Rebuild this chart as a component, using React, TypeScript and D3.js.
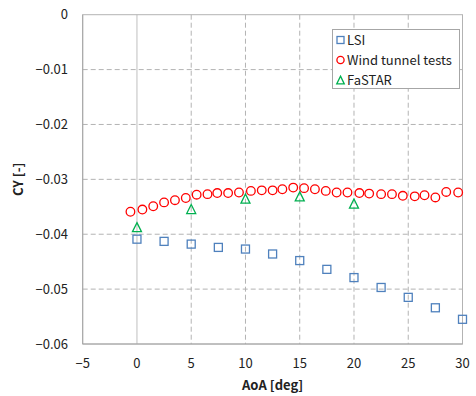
import React from "react";
import * as d3 from "d3";

const xTicks = [-5, 0, 5, 10, 15, 20, 25, 30];
const yTicks = [0, -0.01, -0.02, -0.03, -0.04, -0.05, -0.06];

const lsiX = [0, 2.5, 5, 7.5, 10, 12.5, 15, 17.5, 20, 22.5, 25, 27.5, 30];
const lsiY = [-0.0409, -0.0413, -0.0418, -0.0424, -0.0427, -0.0436, -0.0448, -0.0464, -0.0479, -0.0497, -0.0515, -0.0534, -0.0555];

const windX = [-0.6, 0.5, 1.5, 2.5, 3.5, 4.5, 5.5, 6.5, 7.4, 8.4, 9.4, 10.5, 11.5, 12.5, 13.4, 14.4, 15.4, 16.4, 17.4, 18.4, 19.4, 20.5, 21.4, 22.5, 23.5, 24.5, 25.6, 26.5, 27.5, 28.5, 29.6];
const windY = [-0.0359, -0.0355, -0.0349, -0.0342, -0.0338, -0.0334, -0.0328, -0.0327, -0.0325, -0.0325, -0.0324, -0.0321, -0.032, -0.032, -0.0318, -0.0315, -0.0316, -0.0318, -0.0321, -0.0324, -0.0324, -0.0325, -0.0326, -0.0327, -0.0327, -0.033, -0.0331, -0.0329, -0.0333, -0.0323, -0.0324];

const fastarX = [0, 5, 10, 15, 20];
const fastarY = [-0.0388, -0.0355, -0.0336, -0.0332, -0.0345];

const BLUE = "#4f81bd";
const RED = "#ff0000";
const GREEN = "#00b050";
const FONT = "'Noto Sans CJK JP', 'Noto Sans', sans-serif";

const fmt = (v: number) => (v === 0 ? "0" : String(v).replace("-", "\u2212"));

export default function App() {
  const left = 82.7, right = 462.5, top = 14.7, bottom = 344;
  const x = d3.scaleLinear().domain([-5, 30]).range([left, right]);
  const y = d3.scaleLinear().domain([-0.06, 0]).range([bottom, top]);

  const square = (cx: number, cy: number, key: string | number, s = 8) => (
    <rect key={key} x={cx - s / 2} y={cy - s / 2} width={s} height={s} fill="none" stroke={BLUE} strokeWidth={1.3} />
  );
  const circle = (cx: number, cy: number, key: string | number, r = 4.3) => (
    <circle key={key} cx={cx} cy={cy} r={r} fill="none" stroke={RED} strokeWidth={1.3} />
  );
  const tri = (cx: number, cy: number, key: string | number, s = 9) => {
    const h = s * 0.9;
    return (
      <path key={key} d={`M${cx},${cy - h / 2 - 1}L${cx + s / 2},${cy + h / 2}L${cx - s / 2},${cy + h / 2}Z`} fill="none" stroke={GREEN} strokeWidth={1.3} />
    );
  };

  return (
    <svg width={476} height={396} style={{ position: "absolute", left: 0, top: 0, background: "#fff" }} fontFamily={FONT}>
      <rect width={476} height={396} fill="#fff" />
      {/* gridlines */}
      {yTicks.filter((t) => t !== 0 && t !== -0.06).map((t) => (
        <line key={"gy" + t} x1={left} x2={right} y1={y(t)} y2={y(t)} stroke="#b3b3b3" strokeWidth={1} strokeDasharray="5,3" />
      ))}
      {xTicks.filter((t) => t !== -5 && t !== 0 && t !== 30).map((t) => (
        <line key={"gx" + t} x1={x(t)} x2={x(t)} y1={top} y2={bottom} stroke="#b3b3b3" strokeWidth={1} strokeDasharray="5,3" />
      ))}
      <line x1={x(0)} x2={x(0)} y1={top} y2={bottom} stroke="#bfbfbf" strokeWidth={1} />
      {/* border */}
      <rect x={left} y={top} width={right - left} height={bottom - top} fill="none" stroke="#b3b3b3" strokeWidth={1} />
      <line x1={left} x2={left} y1={top} y2={bottom} stroke="#a6a6a6" strokeWidth={1} />
      <line x1={left} x2={right} y1={bottom} y2={bottom} stroke="#a6a6a6" strokeWidth={1} />

      {/* tick labels */}
      {yTicks.map((t) => (
        <text key={"ty" + t} x={68} y={y(t)} dy="0.35em" textAnchor="end" fontSize={13} fill="#222">{fmt(t)}</text>
      ))}
      {xTicks.map((t) => (
        <text key={"tx" + t} x={x(t)} y={363} dy="0.35em" textAnchor="middle" fontSize={13} fill="#222">{fmt(t)}</text>
      ))}
      <text x={(left + right) / 2} y={385} dy="0.35em" textAnchor="middle" fontSize={13} fontWeight="bold" fill="#222">AoA [deg]</text>
      <text transform={`translate(18,${(top + bottom) / 2}) rotate(-90)`} dy="0.35em" textAnchor="middle" fontSize={13} fontWeight="bold" fill="#222">CY [-]</text>

      {/* data */}
      {windX.map((v, i) => circle(x(v), y(windY[i]), "w" + i))}
      {lsiX.map((v, i) => square(x(v), y(lsiY[i]), "l" + i))}
      {fastarX.map((v, i) => tri(x(v), y(fastarY[i]), "f" + i))}

      {/* legend */}
      <rect x={332.5} y={29.5} width={127} height={59} fill="#fff" stroke="#a6a6a6" strokeWidth={1} />
      {square(340.5, 40, "lg1", 7)}
      <text x={347} y={40} dy="0.35em" fontSize={13} fill="#222">LSI</text>
      {circle(340.5, 60, "lg2", 3.6)}
      <text x={347} y={60} dy="0.35em" fontSize={13} fill="#222">Wind tunnel tests</text>
      {tri(340.5, 80.5, "lg3", 7.5)}
      <text x={347} y={80.5} dy="0.35em" fontSize={13} fill="#222">FaSTAR</text>
    </svg>
  );
}
